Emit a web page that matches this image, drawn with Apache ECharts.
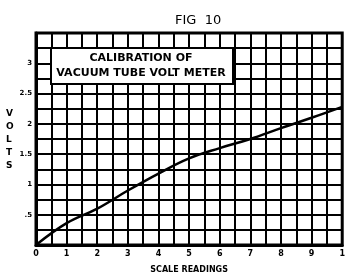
<!DOCTYPE html>
<html>
<head>
<meta charset="utf-8">
<script src="https://cdn.jsdelivr.net/npm/echarts@6/dist/echarts.min.js"></script>
<style>
  html, body { margin: 0; padding: 0; background: #fff; }
  #chart { width: 348px; height: 279px; }
</style>
</head>
<body>
<div id="chart"></div>
<script>
// scale readings vs volts
var scaleReadings = [0, 1, 2, 3, 4, 5, 6, 7, 8, 9, 10];
var volts = [0, 0.36, 0.6, 0.9, 1.18, 1.43, 1.6, 1.75, 1.93, 2.1, 2.28];
var xTickLabels = ['0', '1', '2', '3', '4', '5', '6', '7', '8', '9', '1'];
var yTickLabels = { '0.5': '.5', '1': '1', '1.5': '1.5', '2': '2', '2.5': '2.5', '3': '3' };

var points = scaleReadings.map(function (x, i) { return [x, volts[i]]; });

var boxFont = {
  fontFamily: 'DejaVu Sans', fontSize: 11, fontWeight: 'bold', fill: '#000',
  align: 'center', verticalAlign: 'middle'
};

var chart = echarts.init(document.getElementById('chart'));
chart.setOption({
  animation: false,
  backgroundColor: '#fff',
  title: {
    text: 'FIG  10',
    left: 170,
    top: 9,
    textStyle: { fontFamily: 'DejaVu Sans', fontSize: 13, fontWeight: 'normal', color: '#000' }
  },
  graphic: [
    {
      type: 'rect',
      left: 50,
      top: 47,
      z: 100,
      shape: { width: 182, height: 36 },
      style: { fill: '#ffffff', stroke: '#000', lineWidth: 2 }
    },
    {
      type: 'text',
      x: 141,
      y: 58,
      z: 101,
      style: Object.assign({ text: 'CALIBRATION OF' }, boxFont)
    },
    {
      type: 'text',
      x: 141,
      y: 73,
      z: 101,
      style: Object.assign({ text: 'VACUUM TUBE VOLT METER' }, boxFont)
    },
    {
      type: 'text',
      left: 6,
      top: 107,
      style: {
        text: 'V\nO\nL\nT\nS',
        fontFamily: 'DejaVu Sans', fontSize: 9, fontWeight: 'bold',
        fill: '#000', lineHeight: 13, align: 'center'
      }
    }
  ],
  grid: { left: 36, right: 5, top: 33, bottom: 31 },
  xAxis: {
    type: 'value',
    min: 0,
    max: 10,
    interval: 0.5,
    name: 'SCALE READINGS',
    nameLocation: 'middle',
    nameGap: 21,
    nameTextStyle: { fontFamily: 'DejaVu Sans', fontSize: 8, fontWeight: 'bold', color: '#000' },
    axisLine: { show: true, lineStyle: { color: '#000', width: 3 } },
    axisTick: { show: false },
    axisLabel: {
      margin: 5,
      fontFamily: 'DejaVu Sans', fontSize: 8, fontWeight: 'bold', color: '#000',
      formatter: function (v) {
        return Number.isInteger(v) ? xTickLabels[v] : '';
      }
    },
    splitLine: { show: true, lineStyle: { color: '#000', width: 2 } }
  },
  yAxis: {
    type: 'value',
    min: 0,
    max: 3.5,
    interval: 0.25,
    axisLine: { show: true, lineStyle: { color: '#000', width: 3 } },
    axisTick: { show: false },
    axisLabel: {
      margin: 4,
      fontFamily: 'DejaVu Sans', fontSize: 7, fontWeight: 'bold', color: '#000',
      formatter: function (v) {
        return yTickLabels[String(v)] || '';
      }
    },
    splitLine: { show: true, lineStyle: { color: '#000', width: 2 } }
  },
  series: [
    {
      type: 'line',
      data: points,
      smooth: 0.4,
      showSymbol: false,
      lineStyle: { color: '#000', width: 2.5 },
      z: 5
    },
    {
      // thick border round the plot area
      type: 'line',
      data: [],
      markArea: {
        silent: true,
        itemStyle: { color: 'transparent', borderColor: '#000', borderWidth: 3 },
        data: [[{ coord: [0, 0] }, { coord: [10, 3.5] }]]
      }
    }
  ]
});
</script>
</body>
</html>
